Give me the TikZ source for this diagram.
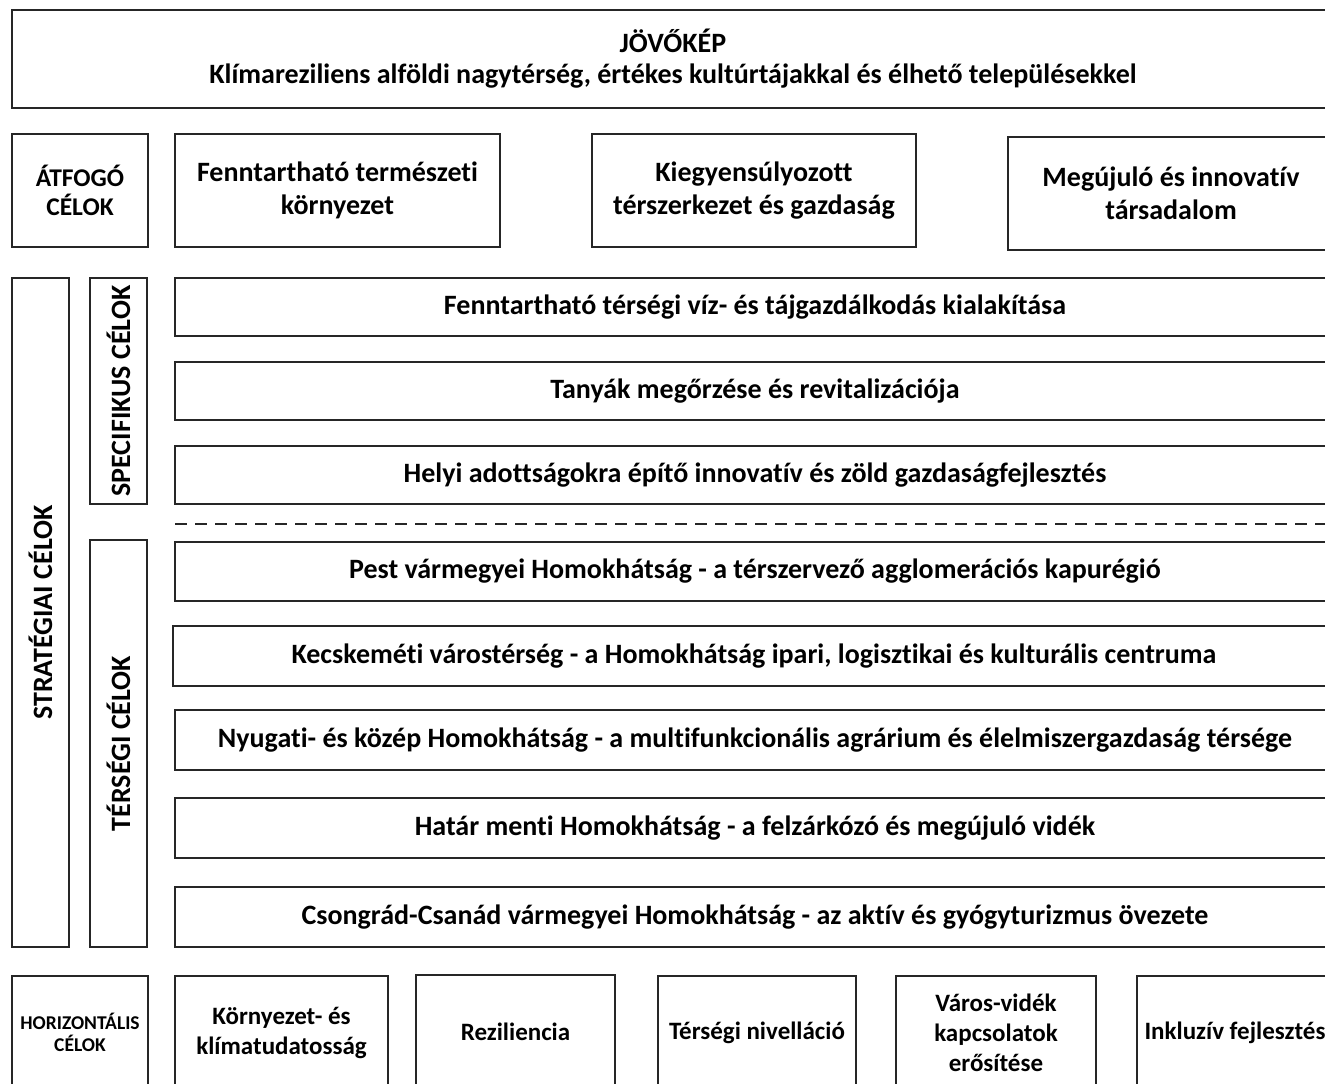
\documentclass[tikz,border=0pt]{standalone}
\usepackage{fontspec}
\setmainfont{Carlito}[Ligatures=NoCommon]
\begin{document}
\begin{tikzpicture}[x=1pt,y=-1pt,
  box/.style={draw=black!85, line width=1.4pt, inner sep=0pt, align=center, font=\bfseries\fontsize{28}{33}\selectfont},
  sbox/.style={box, font=\bfseries\fontsize{25}{30}\selectfont},
  lbl/.style={box, font=\bfseries\fontsize{25.5}{29}\selectfont},
  vlbl/.style={inner sep=0pt, rotate=90, font=\bfseries\fontsize{28}{33}\selectfont},
  row/.style={box, minimum width=1160pt, minimum height=58pt}]
\useasboundingbox (0,0) rectangle (1325,1084);
\clip (0,0) rectangle (1325,1084);
% top
\node[box, minimum width=1322pt, minimum height=98pt, font=\bfseries\fontsize{28}{31}\selectfont] (vision) at (673,59)
  {JÖVŐKÉP\\Klímareziliens alföldi nagytérség, értékes kultúrtájakkal és élhető településekkel};
% overarching
\node[lbl, minimum width=136pt, minimum height=113pt] (atfogo) at (80,190.5) {ÁTFOGÓ\\CÉLOK};
\node[box, minimum width=325pt, minimum height=113pt] (fennt) at (337.5,190.5) {Fenntartható természeti\\környezet};
\node[box, minimum width=324pt, minimum height=113pt] (kiegy) at (754,190.5) {Kiegyensúlyozott\\térszerkezet és gazdaság};
\node[box, minimum width=326pt, minimum height=113pt] (megu) at (1171,193.5) {Megújuló és innovatív\\társadalom};
% vertical labels
\node[box, minimum width=57pt, minimum height=669pt] (strat) at (40.5,612.5) {};
\node[vlbl] (stratlbl) at (strat.center) {STRATÉGIAI CÉLOK};
\node[box, minimum width=57pt, minimum height=226pt] (spec) at (118.5,391) {};
\node[vlbl] (speclbl) at (spec.center) {SPECIFIKUS CÉLOK};
\node[box, minimum width=57pt, minimum height=407pt] (terseg) at (118.5,743.5) {};
\node[vlbl] (terseglbl) at (terseg.center) {TÉRSÉGI CÉLOK};
% specific rows
\node[row] (s1) at (755,307) {Fenntartható térségi víz- és tájgazdálkodás kialakítása};
\node[row] (s2) at (755,391) {Tanyák megőrzése és revitalizációja};
\node[row] (s3) at (755,475) {Helyi adottságokra építő innovatív és zöld gazdaságfejlesztés};
% dashed separator
\coordinate (dl) at (175,524);
\coordinate (dr) at (1335,524);
\draw[draw=black!85, line width=1.4pt, dash pattern=on 12pt off 8pt] (dl) -- (dr);
% regional rows
\node[row, minimum height=59pt] (t1) at (755,571.5) {Pest vármegyei Homokhátság - a térszervező agglomerációs kapurégió};
\node[row, minimum height=60pt, minimum width=1162pt] (t2) at (754,656) {Kecskeméti várostérség - a Homokhátság ipari, logisztikai és kulturális centruma};
\node[row, minimum height=60pt] (t3) at (755,740) {Nyugati- és közép Homokhátság - a multifunkcionális agrárium és élelmiszergazdaság térsége};
\node[row, minimum height=60pt] (t4) at (755,828) {Határ menti Homokhátság - a felzárkózó és megújuló vidék};
\node[row, minimum height=60pt] (t5) at (755,917) {Csongrád-Csanád vármegyei Homokhátság - az aktív és gyógyturizmus övezete};
% horizontal goals
\node[box, minimum width=136pt, minimum height=113pt, font=\bfseries\fontsize{19.5}{22}\selectfont] (horiz) at (80,1032.5) {HORIZONTÁLIS\\CÉLOK};
\node[sbox, minimum width=213pt, minimum height=113pt] (h1) at (281.5,1032.5) {Környezet- és\\klímatudatosság};
\node[sbox, minimum width=199pt, minimum height=114pt] (h2) at (515.5,1032) {Reziliencia};
\node[sbox, minimum width=198pt, minimum height=113pt] (h3) at (757,1032.5) {Térségi nivelláció};
\node[sbox, minimum width=200pt, minimum height=113pt] (h4) at (996,1032.5) {Város-vidék\\kapcsolatok\\erősítése};
\node[sbox, minimum width=196pt, minimum height=113pt] (h5) at (1235,1032.5) {Inkluzív fejlesztés};
\end{tikzpicture}
\end{document}
